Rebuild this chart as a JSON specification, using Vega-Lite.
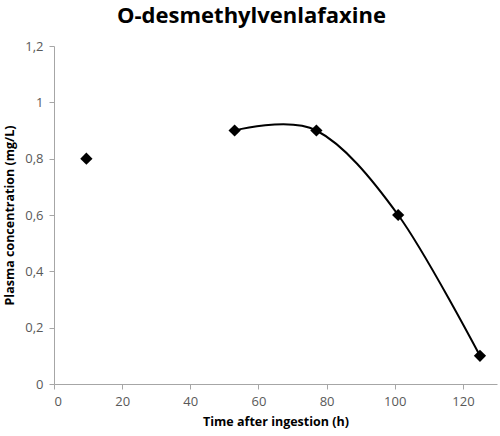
{
  "$schema": "https://vega.github.io/schema/vega-lite/v6.json",
  "width": 443,
  "height": 338,
  "autosize": {"type": "none"},
  "padding": {"left": 54, "top": 46, "right": 3, "bottom": 52},
  "background": "white",
  "title": {
    "text": "O-desmethylvenlafaxine",
    "font": "Open Sans",
    "fontWeight": "bold",
    "fontSize": 22,
    "color": "#000000",
    "anchor": "middle",
    "dx": -24,
    "offset": 12
  },
  "data": {
    "values": [
      {"t": 9.5, "c": 0.8, "curve": false},
      {"t": 53, "c": 0.9, "curve": true},
      {"t": 77, "c": 0.9, "curve": true},
      {"t": 101, "c": 0.6, "curve": true},
      {"t": 125, "c": 0.1, "curve": true}
    ]
  },
  "encoding": {
    "x": {
      "field": "t",
      "type": "quantitative",
      "scale": {"domain": [0, 130], "nice": false, "zero": false},
      "axis": {
        "title": "Time after ingestion (h)",
        "values": [0, 20, 40, 60, 80, 100, 120],
        "grid": false,
        "domainColor": "#a6a6a6",
        "tickColor": "#a6a6a6",
        "tickSize": 5,
        "labelFont": "Open Sans",
        "labelFontSize": 13,
        "labelColor": "#595959",
        "labelPadding": 6,
        "titleFont": "Open Sans",
        "titleFontSize": 12.5,
        "titleFontWeight": "bold",
        "titleColor": "#000000",
        "titlePadding": 7
      }
    },
    "y": {
      "field": "c",
      "type": "quantitative",
      "scale": {"domain": [0, 1.2], "nice": false},
      "axis": {
        "title": "Plasma concentration (mg/L)",
        "values": [0, 0.2, 0.4, 0.6, 0.8, 1, 1.2],
        "labelExpr": "replace(format(datum.value, '.1~f'), '.', ',')",
        "grid": false,
        "domainColor": "#a6a6a6",
        "tickColor": "#a6a6a6",
        "tickSize": 5,
        "labelFont": "Open Sans",
        "labelFontSize": 13,
        "labelColor": "#595959",
        "labelPadding": 6,
        "titleFont": "Open Sans",
        "titleFontSize": 12.5,
        "titleFontWeight": "bold",
        "titleColor": "#000000",
        "titlePadding": 8
      }
    }
  },
  "layer": [
    {
      "transform": [{"filter": "datum.curve"}],
      "mark": {"type": "line", "interpolate": "cardinal", "color": "#000000", "strokeWidth": 2}
    },
    {
      "mark": {"type": "point", "shape": "diamond", "filled": true, "color": "#000000", "size": 150, "opacity": 1}
    }
  ],
  "config": {"view": {"stroke": null}}
}
